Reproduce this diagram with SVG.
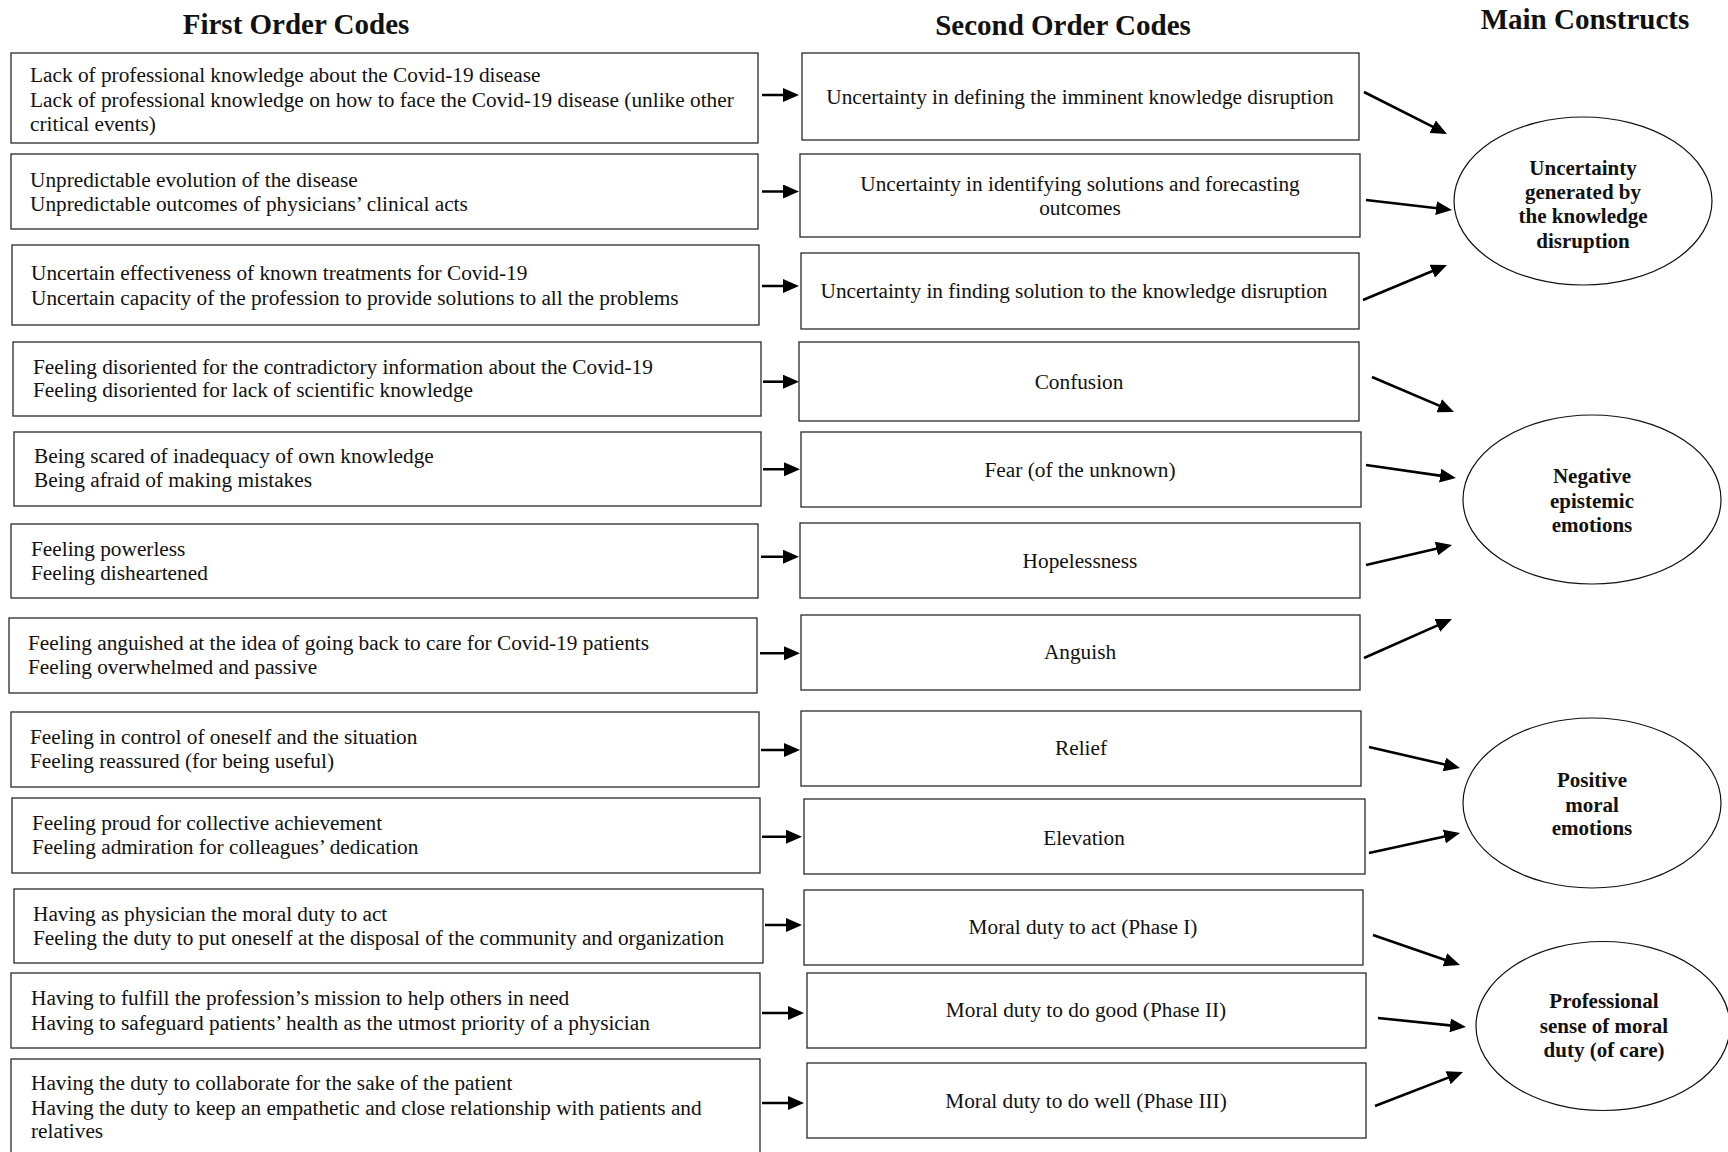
<svg xmlns="http://www.w3.org/2000/svg" width="1728" height="1152" viewBox="0 0 1728 1152">
<style>
.bg{fill:#fff}
.box{fill:#fff;stroke:#2a2a2a;stroke-width:1.3}
.ell{fill:#fff;stroke:#111;stroke-width:1.2}
.t{font-family:"Liberation Serif","Times New Roman",serif;font-size:21.3px;fill:#111}
.c{text-anchor:middle}
.b{font-family:"Liberation Serif","Times New Roman",serif;font-size:21px;font-weight:bold;fill:#111;text-anchor:middle}
.h{font-family:"Liberation Serif","Times New Roman",serif;font-size:29px;font-weight:bold;fill:#111;text-anchor:middle}
.arr{stroke:#000;stroke-width:2.6;fill:none;marker-end:url(#ah)}
</style>
<defs>
<marker id="ah" markerUnits="userSpaceOnUse" markerWidth="16" markerHeight="14" viewBox="0 0 16 14" refX="12" refY="7" orient="auto">
<path d="M0,0 L16,7 L0,14 z" fill="#000"/>
</marker>
</defs>
<rect class="bg" x="0" y="0" width="1728" height="1152"/>

<g id="headers">
<text class="h" x="296" y="34">First Order Codes</text>
<text class="h" x="1063" y="35">Second Order Codes</text>
<text class="h" x="1585" y="29">Main Constructs</text>
</g>

<g id="f1"><rect class="box" x="11" y="53" width="747" height="90"/>
<text class="t" x="30" y="82">Lack of professional knowledge about the Covid-19 disease</text>
<text class="t" x="30" y="106.5">Lack of professional knowledge on how to face the Covid-19 disease (unlike other</text>
<text class="t" x="30" y="131">critical events)</text></g>
<g id="f2"><rect class="box" x="11" y="154" width="747" height="75"/>
<text class="t" x="30" y="187">Unpredictable evolution of the disease</text>
<text class="t" x="30" y="211">Unpredictable outcomes of physicians’ clinical acts</text></g>
<g id="f3"><rect class="box" x="12" y="245" width="747" height="80"/>
<text class="t" x="31" y="280">Uncertain effectiveness of known treatments for Covid-19</text>
<text class="t" x="31" y="304.5">Uncertain capacity of the profession to provide solutions to all the problems</text></g>
<g id="f4"><rect class="box" x="13" y="342" width="748" height="74"/>
<text class="t" x="33" y="373.5">Feeling disoriented for the contradictory information about the Covid-19</text>
<text class="t" x="33" y="397">Feeling disoriented for lack of scientific knowledge</text></g>
<g id="f5"><rect class="box" x="14" y="432" width="747" height="74"/>
<text class="t" x="34" y="463">Being scared of inadequacy of own knowledge</text>
<text class="t" x="34" y="487">Being afraid of making mistakes</text></g>
<g id="f6"><rect class="box" x="11" y="524" width="747" height="74"/>
<text class="t" x="31" y="556">Feeling powerless</text>
<text class="t" x="31" y="580">Feeling disheartened</text></g>
<g id="f7"><rect class="box" x="9" y="618" width="748" height="75"/>
<text class="t" x="28" y="650">Feeling anguished at the idea of going back to care for Covid-19 patients</text>
<text class="t" x="28" y="674">Feeling overwhelmed and passive</text></g>
<g id="f8"><rect class="box" x="11" y="712" width="748" height="75"/>
<text class="t" x="30" y="743.5">Feeling in control of oneself and the situation</text>
<text class="t" x="30" y="768">Feeling reassured (for being useful)</text></g>
<g id="f9"><rect class="box" x="12" y="798" width="748" height="75"/>
<text class="t" x="32" y="829.5">Feeling proud for collective achievement</text>
<text class="t" x="32" y="854">Feeling admiration for colleagues’ dedication</text></g>
<g id="f10"><rect class="box" x="14" y="889" width="749" height="74"/>
<text class="t" x="33" y="921">Having as physician the moral duty to act</text>
<text class="t" x="33" y="945">Feeling the duty to put oneself at the disposal of the community and organization</text></g>
<g id="f11"><rect class="box" x="11" y="973" width="749" height="75"/>
<text class="t" x="31" y="1005">Having to fulfill the profession’s mission to help others in need</text>
<text class="t" x="31" y="1030">Having to safeguard patients’ health as the utmost priority of a physician</text></g>
<g id="f12"><rect class="box" x="11" y="1059" width="749" height="110"/>
<text class="t" x="31" y="1090">Having the duty to collaborate for the sake of the patient</text>
<text class="t" x="31" y="1114.5">Having the duty to keep an empathetic and close relationship with patients and</text>
<text class="t" x="31" y="1138">relatives</text></g>

<g id="s1"><rect class="box" x="802" y="53" width="557" height="87"/>
<text class="t c" x="1080" y="103.5">Uncertainty in defining the imminent knowledge disruption</text></g>
<g id="s2"><rect class="box" x="800" y="154" width="560" height="83"/>
<text class="t c" x="1080" y="191">Uncertainty in identifying solutions and forecasting</text>
<text class="t c" x="1080" y="215">outcomes</text></g>
<g id="s3"><rect class="box" x="801" y="253" width="558" height="76"/>
<text class="t c" x="1074" y="298">Uncertainty in finding solution to the knowledge disruption</text></g>
<g id="s4"><rect class="box" x="799" y="342" width="560" height="79"/>
<text class="t c" x="1079" y="389">Confusion</text></g>
<g id="s5"><rect class="box" x="801" y="432" width="560" height="75"/>
<text class="t c" x="1080" y="476.5">Fear (of the unknown)</text></g>
<g id="s6"><rect class="box" x="800" y="523" width="560" height="75"/>
<text class="t c" x="1080" y="568">Hopelessness</text></g>
<g id="s7"><rect class="box" x="801" y="615" width="559" height="75"/>
<text class="t c" x="1080" y="659">Anguish</text></g>
<g id="s8"><rect class="box" x="801" y="711" width="560" height="75"/>
<text class="t c" x="1081" y="754.5">Relief</text></g>
<g id="s9"><rect class="box" x="804" y="799" width="561" height="75"/>
<text class="t c" x="1084" y="844.5">Elevation</text></g>
<g id="s10"><rect class="box" x="804" y="890" width="559" height="75"/>
<text class="t c" x="1083" y="934">Moral duty to act (Phase I)</text></g>
<g id="s11"><rect class="box" x="807" y="973" width="559" height="75"/>
<text class="t c" x="1086" y="1017">Moral duty to do good (Phase II)</text></g>
<g id="s12"><rect class="box" x="807" y="1063" width="559" height="75"/>
<text class="t c" x="1086" y="1108">Moral duty to do well (Phase III)</text></g>

<g id="m1"><ellipse class="ell" cx="1583" cy="201" rx="129" ry="84"/>
<text class="b" x="1583" y="174.5">Uncertainty</text>
<text class="b" x="1583" y="198.5">generated by</text>
<text class="b" x="1583" y="223">the knowledge</text>
<text class="b" x="1583" y="247.5">disruption</text></g>
<g id="m2"><ellipse class="ell" cx="1592" cy="499.5" rx="129" ry="84.5"/>
<text class="b" x="1592" y="483">Negative</text>
<text class="b" x="1592" y="507.5">epistemic</text>
<text class="b" x="1592" y="531.5">emotions</text></g>
<g id="m3"><ellipse class="ell" cx="1592" cy="803" rx="129" ry="85"/>
<text class="b" x="1592" y="786.5">Positive</text>
<text class="b" x="1592" y="811.5">moral</text>
<text class="b" x="1592" y="835">emotions</text></g>
<g id="m4"><ellipse class="ell" cx="1603" cy="1026" rx="127" ry="84.5"/>
<text class="b" x="1604" y="1008">Professional</text>
<text class="b" x="1604" y="1033">sense of moral</text>
<text class="b" x="1604" y="1057">duty (of care)</text></g>

<g id="connectors">
<line class="arr" x1="762" y1="95" x2="795" y2="95"/>
<line class="arr" x1="762" y1="191.5" x2="795" y2="191.5"/>
<line class="arr" x1="762" y1="286" x2="795" y2="286"/>
<line class="arr" x1="763" y1="381.7" x2="795" y2="381.7"/>
<line class="arr" x1="763" y1="469.3" x2="796" y2="469.3"/>
<line class="arr" x1="761" y1="556.7" x2="795" y2="556.7"/>
<line class="arr" x1="760" y1="653.3" x2="796" y2="653.3"/>
<line class="arr" x1="761" y1="750" x2="796" y2="750"/>
<line class="arr" x1="762" y1="836.7" x2="798" y2="836.7"/>
<line class="arr" x1="765" y1="925" x2="798" y2="925"/>
<line class="arr" x1="762" y1="1013" x2="800" y2="1013"/>
<line class="arr" x1="762" y1="1103" x2="800" y2="1103"/>

<line class="arr" x1="1364" y1="92" x2="1443.4" y2="132.2"/>
<line class="arr" x1="1366" y1="200" x2="1448" y2="209.5"/>
<line class="arr" x1="1363" y1="300" x2="1443.3" y2="266.5"/>
<line class="arr" x1="1372" y1="377" x2="1450.3" y2="410.4"/>
<line class="arr" x1="1366" y1="465" x2="1452" y2="477.4"/>
<line class="arr" x1="1366" y1="565" x2="1448.1" y2="545.9"/>
<line class="arr" x1="1364" y1="658" x2="1448.3" y2="620.6"/>
<line class="arr" x1="1369" y1="747" x2="1456.1" y2="767.1"/>
<line class="arr" x1="1369" y1="853" x2="1456.1" y2="833.9"/>
<line class="arr" x1="1373" y1="935" x2="1456.2" y2="963.7"/>
<line class="arr" x1="1378" y1="1018" x2="1462" y2="1026.6"/>
<line class="arr" x1="1375" y1="1106" x2="1459.3" y2="1073.4"/>
</g>
</svg>
